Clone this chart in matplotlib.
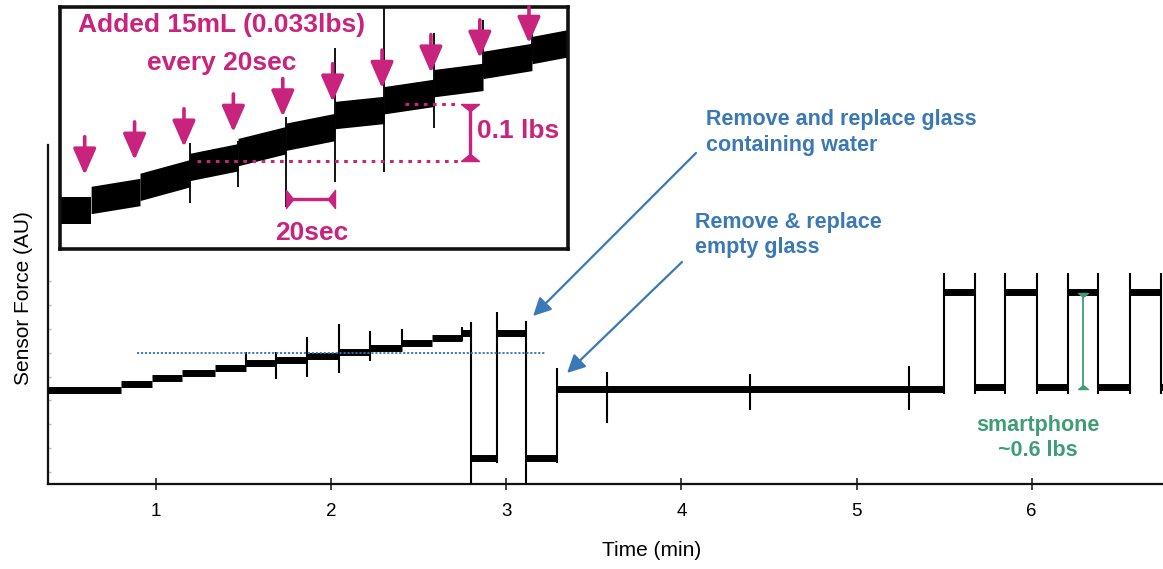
import numpy as np
import matplotlib
matplotlib.use("Agg")
import matplotlib.pyplot as plt
from matplotlib.path import Path

W, H = 1163, 569

# ---------------- main recording (time in min, force in lbs) ----------------
step_edges = [0.383, 0.800, 0.977, 1.148, 1.337, 1.514, 1.685, 1.862, 2.045,
              2.222, 2.405, 2.576, 2.747, 2.799, 2.947, 3.113, 3.290, 5.499,
              5.676, 5.848, 6.030, 6.207, 6.379, 6.561, 6.738, 6.75]
step_levels = [-0.005, 0.03, 0.07, 0.10, 0.13, 0.165, 0.18, 0.205, 0.23,
               0.255, 0.29, 0.32, 0.35, -0.43, 0.35, -0.43, 0.0, 0.605,
               0.01, 0.605, 0.01, 0.605, 0.01, 0.605, 0.01]

# transient spikes / transitions: time, lowest, highest value
spike_t = [1.514, 1.685, 1.862, 2.045, 2.222, 2.405, 2.747,
           2.799, 2.947, 3.113, 3.290,
           3.575, 4.392, 5.299,
           5.499, 5.676, 5.848, 6.030, 6.207, 6.379, 6.561, 6.738]
spike_lo = [0.137, 0.062, 0.075, 0.10, 0.175, 0.262, 0.30,
            -0.60, -0.462, -0.60, -0.462,
            -0.212, -0.131, -0.131,
            -0.03, -0.03, -0.03, -0.03, -0.03, -0.03, -0.03, -0.03]
spike_hi = [0.231, 0.231, 0.325, 0.406, 0.362, 0.375, 0.387,
            0.419, 0.481, 0.425, 0.131,
            0.106, 0.094, 0.144,
            0.725, 0.725, 0.725, 0.725, 0.725, 0.725, 0.725, 0.725]

ref_level = 0.225          # dotted reference level
ref_span = [0.892, 3.221]
phone_t = 6.293
phone_lo, phone_hi = 0.0, 0.6

x_ticks = [1, 2, 3, 4, 5, 6]
y_ticks = [0.675, 0.525, 0.375, 0.225, 0.075, -0.069, -0.219, -0.369, -0.519]

# ---------------- inset: water additions (time in s, force in lbs) ----------
inset_edges = [0, 12.6, 32.4, 52.6, 72.1, 91.5, 111.3, 131.2, 151.4, 171.3, 191.1, 205.7]
inset_start = [0.068, 0.086, 0.109, 0.144, 0.170, 0.197, 0.235, 0.261, 0.291, 0.323, 0.349]
inset_end = [0.068, 0.100, 0.133, 0.161, 0.191, 0.214, 0.244, 0.274, 0.302, 0.337, 0.361]
inset_spike_t = [52.6, 72.1, 91.5, 111.3, 131.2, 151.4, 171.3, 191.1]
inset_spike_lo = [0.081, 0.109, 0.074, 0.118, 0.135, 0.212, 0.300, 0.330]
inset_spike_hi = [0.186, 0.190, 0.232, 0.352, 0.423, 0.379, 0.402, 0.384]
arrow_t = [10.0, 30.2, 50.2, 70.2, 90.2, 110.4, 130.4, 150.2, 170.0, 189.9]
arrow_tip = [0.130, 0.156, 0.179, 0.205, 0.232, 0.258, 0.282, 0.309, 0.335, 0.361]
bracket_lo = 0.155
bracket_step = 0.1
bracket_t = 166.1
interval_start, interval_len = 91.5, 20.0
interval_level = 0.087

MAG = "#c8237d"
BLUE = "#3a78b6"
GREEN = "#3f9d76"

plt.rcParams["font.family"] = ["Liberation Sans", "DejaVu Sans"]

fig = plt.figure(figsize=(W / 100, H / 100), dpi=100)


def px(x, y):
    return x / W, 1 - y / H


# ---------------- main axes ----------------
ax = fig.add_axes([48 / W, 85 / H, 1115 / W, 339 / H])
ax.set_xlim(0.383, 6.75)
ax.set_ylim(-0.594, 1.525)

ax.hlines(step_levels, step_edges[:-1], step_edges[1:], colors="black",
          lw=5.0, capstyle="butt", zorder=3)
ax.vlines(spike_t, spike_lo, spike_hi, colors="black", lw=1.5, zorder=3)

ax.hlines(ref_level, ref_span[0], ref_span[1], colors="#2f74b5", lw=1.3,
          linestyles=(0, (1.2, 1.0)), zorder=4)

for s in ["top", "right"]:
    ax.spines[s].set_visible(False)
for s in ["left", "bottom"]:
    ax.spines[s].set_linewidth(1.6)
    ax.spines[s].set_color("#111111")

ax.set_xticks(x_ticks)
ax.set_xticklabels([str(t) for t in x_ticks], fontsize=13.5)
ax.tick_params(axis="x", direction="inout", length=8, width=1.2,
               color="#222222", pad=10)
ax.set_yticks(y_ticks)
ax.set_yticklabels([])
ax.tick_params(axis="y", direction="in", length=2.5, width=1.0, color="#bbbbbb")

fig.text(*px(24, 298), "Sensor Force (AU)", rotation=90, ha="center",
         va="center", fontsize=15)
fig.text(*px(652, 551), "Time (min)", ha="center", va="center", fontsize=15)

# annotation arrows
ax.annotate("", xy=(3.153, 0.456), xycoords="data",
            xytext=(696, H - 153), textcoords="figure pixels",
            arrowprops=dict(arrowstyle="-|>,head_length=0.9,head_width=0.45",
                            color=BLUE, lw=1.6, shrinkA=0, shrinkB=0,
                            mutation_scale=12))
ax.annotate("", xy=(3.347, 0.10), xycoords="data",
            xytext=(682, H - 262), textcoords="figure pixels",
            arrowprops=dict(arrowstyle="-|>,head_length=0.9,head_width=0.45",
                            color=BLUE, lw=1.6, shrinkA=0, shrinkB=0,
                            mutation_scale=12))

bold = dict(fontweight="bold", fontsize=15.5)
fig.text(*px(706, 120), "Remove and replace glass", color=BLUE, ha="left",
         va="center", **bold)
fig.text(*px(706, 146), "containing water", color=BLUE, ha="left",
         va="center", **bold)
fig.text(*px(695, 223), "Remove & replace", color=BLUE, ha="left",
         va="center", **bold)
fig.text(*px(695, 248), "empty glass", color=BLUE, ha="left",
         va="center", **bold)
fig.text(*px(1038, 425), "smartphone", color=GREEN, ha="center",
         va="center", **bold)
fig.text(*px(1038, 450), "~0.6 lbs", color=GREEN, ha="center",
         va="center", **bold)


# bracket end caps: triangles whose base sits on the end point
def cap(direction):
    if direction == "down":
        v = [(-1, 0), (1, 0), (0, -0.8), (-1, 0)]
    elif direction == "up":
        v = [(-1, 0), (1, 0), (0, 0.8), (-1, 0)]
    elif direction == "right":
        v = [(0, -1), (0, 1), (0.8, 0), (0, -1)]
    else:
        v = [(0, -1), (0, 1), (-0.8, 0), (0, -1)]
    return Path(v, [Path.MOVETO, Path.LINETO, Path.LINETO, Path.CLOSEPOLY])


ax.vlines(phone_t, phone_lo, phone_hi, colors=GREEN, lw=1.3, zorder=5)
ax.plot([phone_t], [phone_hi], marker=cap("down"), ms=7, color=GREEN, zorder=5)
ax.plot([phone_t], [phone_lo], marker=cap("up"), ms=7, color=GREEN, zorder=5)

# ---------------- inset ----------------
iax = fig.add_axes([60 / W, (H - 249) / H, 508 / W, 242 / H])
iax.set_xlim(0, 205.7)
iax.set_ylim(0, 0.4246)
iax.set_xticks([])
iax.set_yticks([])
for s in iax.spines.values():
    s.set_linewidth(2.6)
    s.set_color("#111111")

half = 0.024
for i in range(len(inset_start)):
    x0, x1 = inset_edges[i], inset_edges[i + 1]
    y0, y1 = inset_start[i], inset_end[i]
    iax.fill_between([x0, x1], [y0 - half, y1 - half], [y0 + half, y1 + half],
                     color="black", lw=0, zorder=2)
iax.vlines(inset_spike_t, inset_spike_lo, inset_spike_hi, colors="black",
           lw=1.3, zorder=2)

arrow_len = 0.067
for t, tip in zip(arrow_t, arrow_tip):
    iax.annotate("", xy=(t, tip), xytext=(t, min(tip + arrow_len, 0.4246)),
                 arrowprops=dict(arrowstyle="-|>,head_length=0.8,head_width=0.35",
                                 color=MAG, lw=2.6, shrinkA=0, shrinkB=0,
                                 mutation_scale=20), zorder=4)

dots = (0, (1.2, 1.8))
iax.hlines(bracket_lo, 55.3, 162.7, colors=MAG, lw=2.2, linestyles=dots, zorder=3)
iax.hlines(bracket_lo + bracket_step, 139.7, 161.2, colors=MAG, lw=2.2,
           linestyles=dots, zorder=3)
iax.vlines(bracket_t, bracket_lo, bracket_lo + bracket_step, colors=MAG, lw=2.4, zorder=4)
iax.plot([bracket_t], [bracket_lo + bracket_step], marker=cap("down"), ms=13,
         color=MAG, zorder=4)
iax.plot([bracket_t], [bracket_lo], marker=cap("up"), ms=13, color=MAG, zorder=4)

iax.hlines(interval_level, interval_start, interval_start + interval_len,
           colors=MAG, lw=2.4, zorder=4)
iax.plot([interval_start], [interval_level], marker=cap("right"), ms=13,
         color=MAG, zorder=4)
iax.plot([interval_start + interval_len], [interval_level], marker=cap("left"),
         ms=13, color=MAG, zorder=4)

mbold = dict(fontweight="bold", fontsize=19, color=MAG)
fig.text(*px(222, 25), "Added 15mL (0.033lbs)", ha="center", va="center", **mbold)
fig.text(*px(222, 63), "every 20sec", ha="center", va="center", **mbold)
fig.text(*px(312, 233), "20sec", ha="center", va="center", **mbold)
fig.text(*px(477, 131), "0.1 lbs", ha="left", va="center", **mbold)

fig.savefig("out.png", dpi=100)
